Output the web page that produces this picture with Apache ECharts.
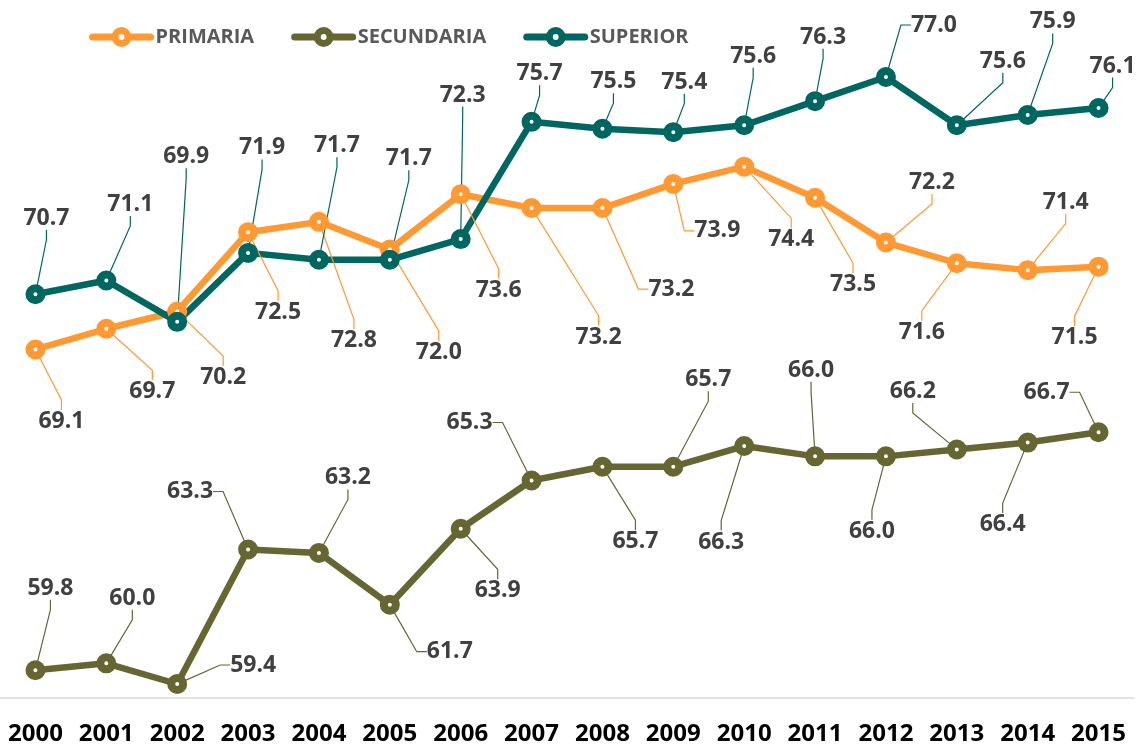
<!DOCTYPE html>
<html>
<head>
<meta charset="utf-8">
<title>Primaria / Secundaria / Superior 2000-2015</title>
<script src="https://cdn.jsdelivr.net/npm/echarts@6/dist/echarts.min.js"></script>
<style>
    html, body { margin: 0; padding: 0; background: #fff; }
    #main { width: 1140px; height: 746px; }
</style>
</head>
<body>
<div id="main"></div>
<script>
// datos
const years = ['2000', '2001', '2002', '2003', '2004', '2005', '2006', '2007',
    '2008', '2009', '2010', '2011', '2012', '2013', '2014', '2015'];
const primaria = [69.1, 69.7, 70.2, 72.5, 72.8, 72.0, 73.6, 73.2, 73.2, 73.9, 74.4, 73.5, 72.2, 71.6, 71.4, 71.5];
const secundaria = [59.8, 60.0, 59.4, 63.3, 63.2, 61.7, 63.9, 65.3, 65.7, 65.7, 66.3, 66.0, 66.0, 66.2, 66.4, 66.7];
const superior = [70.7, 71.1, 69.9, 71.9, 71.7, 71.7, 72.3, 75.7, 75.5, 75.4, 75.6, 76.3, 77.0, 75.6, 75.9, 76.1];

// desplazamiento de cada etiqueta respecto a su punto (px)
const offPrimaria = [[26, 72], [46, 63], [46, 66], [30, 80], [35, 119], [49, 103], [38, 96], [67, 129],
    [69, 81], [44, 47], [47, 73], [38, 87], [46, -60], [-35, 69], [38, -68], [-24, 71]];
const offSecundaria = [[15, -82], [26, -65], [76, -19], [-58, -58], [29, -75], [60, 47], [37, 62], [-62, -58],
    [33, 75], [35, -87], [-23, 96], [-4, -86], [-14, 75], [-44, -58], [-25, 82], [-52, -40]];
const offSuperior = [[11, -76], [24, -76], [9, -165], [14, -105], [18, -114], [19, -101], [2, -144], [8, -48],
    [11, -47], [11, -50], [9, -69], [8, -64], [48, -52], [46, -64], [25, -93], [14, -42]];

const colors = { PRIMARIA: '#FF9933', SECUNDARIA: '#666633', SUPERIOR: '#006660' };
const font = "'Open Sans', 'Noto Sans', sans-serif";

function serie(name, data, offsets) {
    const c = colors[name];
    return {
        name: name,
        type: 'line',
        data: data,
        symbol: 'circle',
        symbolSize: 12,
        lineStyle: { color: c, width: 6.5, cap: 'round', join: 'round' },
        itemStyle: { color: '#fff', borderColor: c, borderWidth: 8 },
        label: {
            show: true,
            position: 'inside',
            formatter: p => p.value.toFixed(1),
            color: '#404040',
            textBorderWidth: 0,
            fontFamily: font,
            fontWeight: 'bold',
            fontSize: 23,
            padding: [4, 6]
        },
        labelLine: { show: true, length2: 10, lineStyle: { color: c, width: 1.2 } },
        // etiquetas tipo "llamada" de Excel
        labelLayout: p => {
            const o = offsets[p.dataIndex];
            return {
                x: p.rect.x + p.rect.width / 2 + o[0],
                y: p.rect.y + p.rect.height / 2 + o[1],
                align: 'center',
                verticalAlign: 'middle'
            };
        },
        emphasis: { disabled: true }
    };
}

function legendItem(name) {
    const c = colors[name];
    return {
        name: name,
        itemStyle: { color: '#fff', borderColor: c, borderWidth: 7 },
        lineStyle: { color: c, width: 7, cap: 'round' }
    };
}

const myChart = echarts.init(document.getElementById('main'));

const option = {
    animation: false,
    legend: {
        left: 89,
        top: 27,
        padding: 0,
        itemWidth: 58,
        itemHeight: 16,
        itemGap: 37,
        data: ['PRIMARIA', 'SECUNDARIA', 'SUPERIOR'].map(legendItem),
        textStyle: { color: '#595959', fontFamily: font, fontWeight: 'bold', fontSize: 20 }
    },
    grid: { left: 0, right: 6, top: 42.5, bottom: 48.2, containLabel: false },
    xAxis: {
        type: 'category',
        data: years,
        boundaryGap: true,
        axisLine: { lineStyle: { color: '#d9d9d9', width: 1.5 } },
        axisTick: { show: false },
        axisLabel: {
            interval: 0,
            margin: 24,
            color: '#000',
            fontFamily: font,
            fontWeight: 'bold',
            fontSize: 24
        }
    },
    yAxis: {
        type: 'value',
        min: 59,
        max: 78,
        show: false,
        splitLine: { show: false }
    },
    series: [
        serie('PRIMARIA', primaria, offPrimaria),
        serie('SECUNDARIA', secundaria, offSecundaria),
        serie('SUPERIOR', superior, offSuperior)
    ]
};

myChart.setOption(option);
</script>
</body>
</html>
